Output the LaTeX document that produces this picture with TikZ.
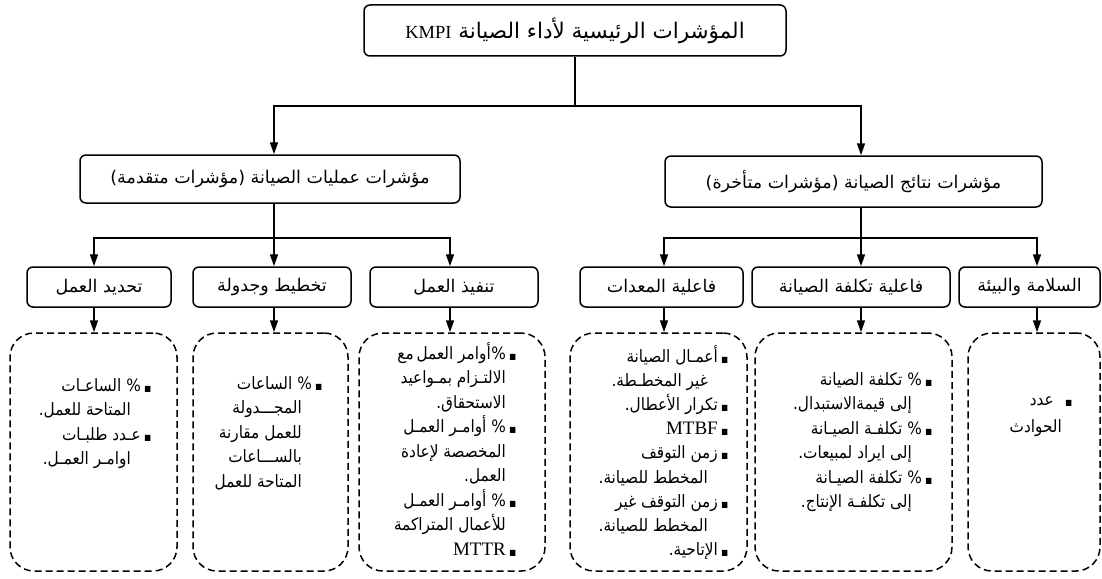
\documentclass[tikz,border=0pt]{standalone}
\usepackage{fontspec}
\setmainfont{Liberation Serif}
\newfontfamily\arfont[Script=Arabic]{DejaVu Sans}
\newfontfamily\arbody[Script=Arabic,FakeStretch=0.9]{DejaVu Sans}
\TeXXeTstate=1
\usetikzlibrary{arrows.meta}

% bullet square and list lines (right-to-left)
\newcommand\sqb{\makebox[14pt][c]{\fontsize{8}{8}\selectfont ■}}
\newcommand\bitem[1]{\beginR\sqb#1\endR}
\newcommand\bcont[2][24pt]{\beginR\hspace*{#1}#2\endR}
\newcommand\lat[2][19]{\beginL{\rmfamily\fontsize{#1}{#1}\selectfont #2}\endL}

\begin{document}
\begin{tikzpicture}[x=1pt,y=-1pt,
  hdr/.style={draw, line width=1.5pt, rounded corners=6pt, inner sep=0pt,
              font={\arfont\fontsize{17.5}{20}\selectfont}},
  dbox/.style={draw, dashed, dash pattern=on 7pt off 4pt, line width=1.5pt,
               rounded corners=24pt, inner sep=0pt, minimum height=238pt},
  body/.style={anchor=north east, inner sep=0pt, align=right,
               font={\arbody\fontsize{17}{24.5}\selectfont}},
  conn/.style={line width=1.6pt},
  arr/.style={conn, -{Triangle[length=12pt,width=8pt]}}]

\useasboundingbox (0,0) rectangle (1102,578);

% level 1
\node[hdr, font={\arfont\fontsize{21.5}{24}\selectfont},
      minimum width=422pt, minimum height=51pt] (top) at (575,30.5)
  {\beginR المؤشرات الرئيسية لأداء الصيانة \lat[18.5]{KMPI}\endR};

% level 2
\node[hdr, minimum width=380pt, minimum height=48pt] (opL) at (270,179)
  {\beginR مؤشرات عمليات الصيانة (مؤشرات متقدمة)\endR};
\node[hdr, minimum width=377pt, minimum height=51pt] (res) at (853.5,181.5)
  {\beginR مؤشرات نتائج الصيانة (مؤشرات متأخرة)\endR};

% level 3
\node[hdr, minimum width=144pt, minimum height=40pt] (wa) at (99,287)
  {\beginR تحديد العمل\endR};
\node[hdr, minimum width=158pt, minimum height=40pt] (wb) at (272,287)
  {\beginR تخطيط وجدولة\endR};
\node[hdr, minimum width=168pt, minimum height=40pt] (wc) at (454,287)
  {\beginR تنفيذ العمل\endR};
\node[hdr, minimum width=163pt, minimum height=40pt] (wd) at (661.5,287)
  {\beginR فاعلية المعدات\endR};
\node[hdr, minimum width=198pt, minimum height=40pt] (we) at (851,287)
  {\beginR فاعلية تكلفة الصيانة\endR};
\node[hdr, minimum width=141pt, minimum height=40pt] (wf) at (1029.5,287)
  {\beginR السلامة والبيئة\endR};

% indicator boxes
\node[dbox, minimum width=167pt] (d1) at (93.5,452) {};
\node[dbox, minimum width=155pt] (d2) at (270.5,452) {};
\node[dbox, minimum width=186pt] (d3) at (452,452) {};
\node[dbox, minimum width=177pt] (d4) at (658.5,452) {};
\node[dbox, minimum width=197pt] (d5) at (853.5,452) {};
\node[dbox, minimum width=132pt] (d6) at (1034,452) {};

\node[body] (t1) at (155,378) {%
  \bitem{\% الساعـات}\\
  \bcont{المتاحة للعمل.}\\
  \bitem{عـدد طلبـات}\\
  \bcont{اوامـر العمـل.}};
\node[body] (t2) at (326,376) {%
  \bitem{\% الساعات}\\
  \bcont{المجـــدولة}\\
  \bcont{للعمل مقارنة}\\
  \bcont{بالســـاعات}\\
  \bcont{المتاحة للعمل}};
\node[body] (t3) at (520,342) {%
  \bitem{\%\kern0.5pt أوامر العمل\,مع}\\
  \bcont[14pt]{الالتـزام بمـواعيد}\\
  \bcont[14pt]{الاستحقاق.}\\
  \bitem{\% أوامـر العمـل}\\
  \bcont[14pt]{المخصصة لإعادة}\\
  \bcont[14pt]{العمل.}\\
  \bitem{\% أوامـر العمـل}\\
  \bcont[14pt]{للأعمال المتراكمة}\\
  \bitem{\lat{MTTR}}};
\node[body, font={\arbody\fontsize{17}{24.2}\selectfont}] (t4) at (732,345) {%
  \bitem{أعمـال الصيانة}\\
  \bcont{غير المخطـطة.}\\
  \bitem{تكرار الأعطال.}\\
  \bitem{\lat{MTBF}}\\
  \bitem{زمن التوقف}\\
  \bcont{المخطط للصيانة.}\\
  \bitem{زمن التوقف غير}\\
  \bcont{المخطط للصيانة.}\\
  \bitem{الإتاحية.}};
\node[body] (t5) at (936,372) {%
  \bitem{\% تكلفة الصيانة}\\
  \bcont{إلى قيمةالاستبدال.}\\
  \bitem{\% تكلفـة الصيـانة}\\
  \bcont{إلى ايراد لمبيعات.}\\
  \bitem{\% تكلفة الصيـانة}\\
  \bcont{إلى تكلفـة الإنتاج.}};
\node[body, font={\arbody\fontsize{17}{27}\selectfont}] (t6) at (1076,396) {%
  \bitem{\hspace*{8pt}عدد}\\
  \bcont[14pt]{الحوادث}};

% junction points of the tree
\coordinate (j0) at (575,106);
\coordinate (jL) at (274,106);
\coordinate (jR) at (861,106);
\coordinate (c1) at (94,238);
\coordinate (c2) at (274,238);
\coordinate (c3) at (450,238);
\coordinate (c4) at (664,238);
\coordinate (c5) at (861,238);
\coordinate (c6) at (1037,238);

% connectors
\draw[conn] (top.south) -- (j0);
\draw[conn, line cap=rect] (jL) -- (jR);
\draw[arr] (jL) -- (jL |- opL.north);
\draw[arr] (jR) -- (jR |- res.north);
\draw[conn] (c2 |- opL.south) -- (c2);
\draw[conn, line cap=rect] (c1) -- (c3);
\draw[conn] (c5 |- res.south) -- (c5);
\draw[conn, line cap=rect] (c4) -- (c6);
\foreach \c/\w/\d in {c1/wa/d1, c2/wb/d2, c3/wc/d3, c4/wd/d4, c5/we/d5, c6/wf/d6} {
  \draw[arr] (\c) -- (\c |- \w.north);
  \draw[arr] (\c |- \w.south) -- (\c |- \d.north);
}
\end{tikzpicture}
\end{document}
